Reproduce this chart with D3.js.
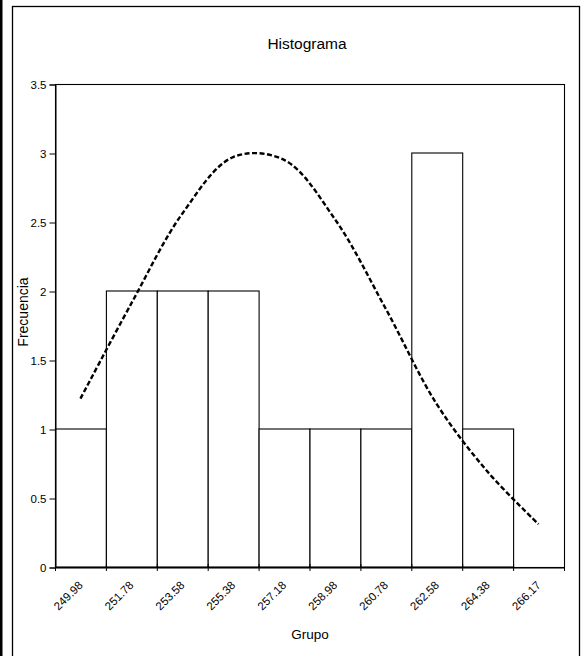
<!DOCTYPE html>
<html>
<head>
<meta charset="utf-8">
<script src="https://cdn.jsdelivr.net/npm/d3@7"></script>
<style>
  html, body { margin: 0; padding: 0; background: #fff; }
  svg { display: block; }
  text { font-family: "Liberation Sans", Arial, sans-serif; fill: #000; }
</style>
</head>
<body>
<svg id="chart" width="582" height="656"></svg>
<script>
const categories = ["249.98","251.78","253.58","255.38","257.18","258.98","260.78","262.58","264.38","266.17"];
const frequencies = [1, 2, 2, 2, 1, 1, 1, 3, 1, 0];
const normalCurve = [1.22, 1.91, 2.56, 2.97, 2.95, 2.52, 1.87, 1.18, 0.69, 0.31];
const yTicks = [0, 0.5, 1, 1.5, 2, 2.5, 3, 3.5];
const titleText = "Histograma";
const xTitle = "Grupo";
const yTitle = "Frecuencia";

const svg = d3.select("#chart");
const plot = { left: 55, right: 564, top: 84, bottom: 567 };

// outer frame
svg.append("rect").attr("x", 0).attr("y", 0).attr("width", 2.5).attr("height", 656).attr("fill", "#000");
svg.append("rect").attr("x", 12.5).attr("y", 6.5).attr("width", 567).attr("height", 720)
  .attr("fill", "none").attr("stroke", "#000").attr("stroke-width", 1.3);

const x = d3.scaleBand().domain(categories).range([plot.left, plot.right]).padding(0);
const y = d3.scaleLinear().domain([0, 3.5]).range([plot.bottom, plot.top]);

// bars
svg.append("g").selectAll("rect").data(categories).join("rect")
  .attr("x", d => x(d) + 0.5)
  .attr("y", (d, i) => y(frequencies[i]))
  .attr("width", x.bandwidth())
  .attr("height", (d, i) => y(0) - y(frequencies[i]))
  .attr("fill", "#fff")
  .attr("stroke", "#000")
  .attr("stroke-width", 1.1)
  .attr("display", (d, i) => frequencies[i] > 0 ? null : "none");

// plot frame (top and right)
svg.append("rect").attr("x", plot.left + 0.5).attr("y", plot.top + 0.5)
  .attr("width", plot.right - plot.left).attr("height", plot.bottom - plot.top)
  .attr("fill", "none").attr("stroke", "#000").attr("stroke-width", 1.1);

// y axis
const yAxis = d3.axisLeft(y).tickValues(yTicks).tickSize(6).tickPadding(3)
  .tickFormat(d3.format("~g"));
const gy = svg.append("g").attr("transform", `translate(${plot.left + 0.5},0.5)`).call(yAxis);
gy.select(".domain").attr("stroke", "#000");
gy.selectAll("text").attr("font-size", 11.5).attr("font-family", "Liberation Sans, Arial, sans-serif");

// x axis
const xAxis = d3.axisBottom(x).tickSize(0).tickFormat(() => "");
const gx = svg.append("g").attr("transform", `translate(0.5,${plot.bottom + 0.5})`).call(xAxis);
gx.select(".domain").attr("stroke", "#000");
const edges = categories.map(c => x(c)).concat([x.range()[1]]);
svg.append("g").selectAll("line").data(edges).join("line")
  .attr("x1", d => d + 0.5).attr("x2", d => d + 0.5)
  .attr("y1", plot.bottom - 3).attr("y2", plot.bottom + 4)
  .attr("stroke", "#000").attr("stroke-width", 1);

svg.append("g").selectAll("text").data(categories).join("text")
  .attr("transform", d => `translate(${x(d) + x.bandwidth() / 2 + 3},${plot.bottom + 19}) rotate(-45)`)
  .attr("text-anchor", "end")
  .attr("font-size", 11.5)
  .text(d => d);

// curve
const line = d3.line()
  .x((d, i) => x(categories[i]) + x.bandwidth() / 2)
  .y(d => y(d))
  .curve(d3.curveCatmullRom.alpha(0.5));
svg.append("path").datum(normalCurve)
  .attr("d", line)
  .attr("fill", "none")
  .attr("stroke", "#000")
  .attr("stroke-width", 2.4)
  .attr("stroke-dasharray", "5,2.5");

// titles
svg.append("text").attr("x", 307).attr("y", 49).attr("text-anchor", "middle")
  .attr("font-size", 15.5).text(titleText);
svg.append("text").attr("x", 310).attr("y", 639).attr("text-anchor", "middle")
  .attr("font-size", 13.5).text(xTitle);
svg.append("text").attr("transform", "translate(27.5,312) rotate(-90)").attr("text-anchor", "middle")
  .attr("font-size", 14).text(yTitle);
</script>
</body>
</html>
